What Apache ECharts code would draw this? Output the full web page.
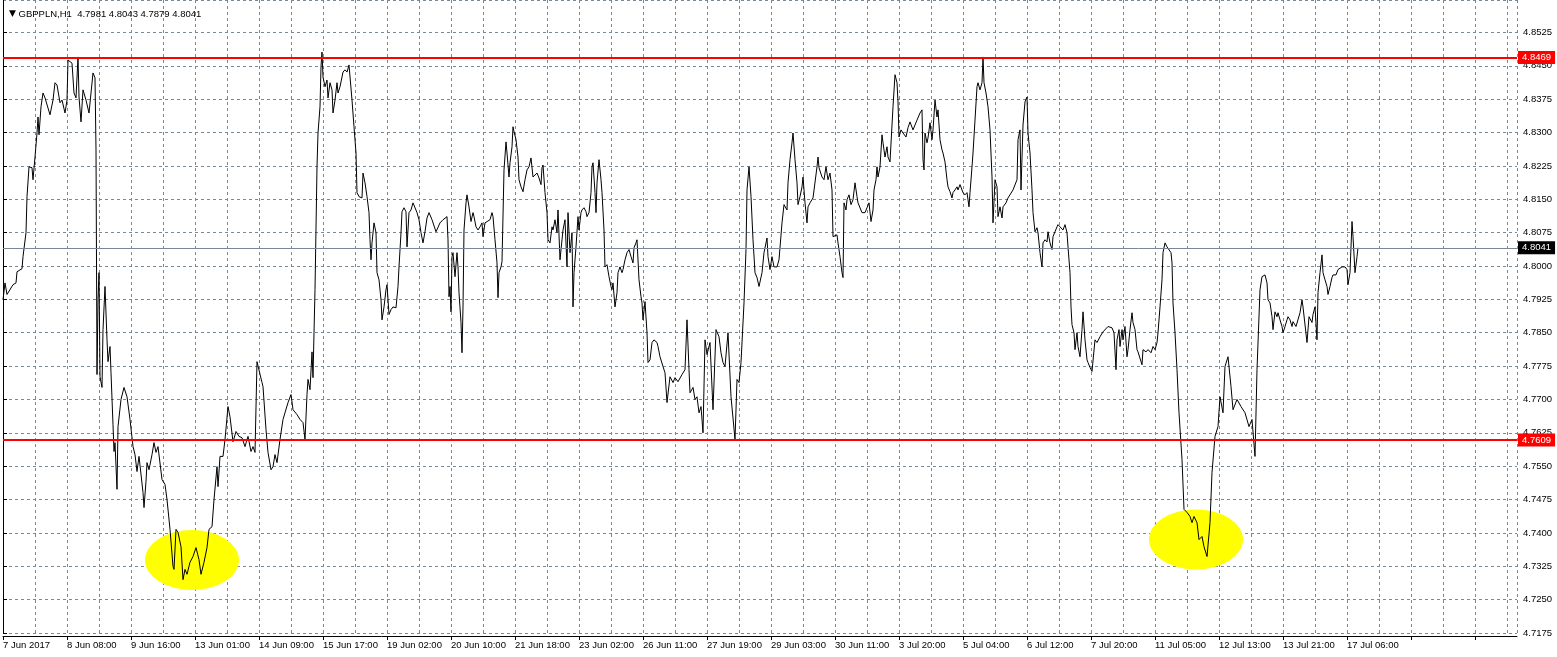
<!DOCTYPE html>
<html>
<head>
<meta charset="utf-8">
<script src="https://cdn.jsdelivr.net/npm/echarts@6/dist/echarts.min.js"></script>
<style>
html,body{margin:0;padding:0;background:#ffffff;}
#chart{width:1557px;height:657px;}
</style>
</head>
<body>
<div id="chart"></div>
<script>
// ---------- data ----------
const chartTitle = 'GBPPLN,H1';
const lastBarOHLC = ['4.7981', '4.8043', '4.7879', '4.8041'];

// x-axis tick labels, one every 32 hourly bars
const xTickLabels = ['7 Jun 2017', '8 Jun 08:00', '9 Jun 16:00', '13 Jun 01:00', '14 Jun 09:00',
  '15 Jun 17:00', '19 Jun 02:00', '20 Jun 10:00', '21 Jun 18:00', '23 Jun 02:00', '26 Jun 11:00',
  '27 Jun 19:00', '29 Jun 03:00', '30 Jun 11:00', '3 Jul 20:00', '5 Jul 04:00', '6 Jul 12:00',
  '7 Jul 20:00', '11 Jul 05:00', '12 Jul 13:00', '13 Jul 21:00', '17 Jul 06:00'];
const barsPerLabel = 32;
const visibleBars = 757;

// price axis
const priceMin = 4.7175;
const priceMax = 4.8598;
const priceStep = 0.0075;

// horizontal levels
const resistanceLevel = 4.8469;
const supportLevel = 4.7609;
const bidPrice = 4.8041;

// highlighted lows (bar, price)
const highlightBars = [94.5, 596.5];
const highlightPrices = [4.7339, 4.7385];

// hourly close line: [bar index, price]
const hourlyCloses = [
[0,4.7924],[1,4.7962],[2,4.7936],[5,4.7958],[6.5,4.7962],[7,4.7987],[9.5,4.7994],[10,4.8021],[11.5,4.8075],[12,4.8156],
[13,4.8223],[14.5,4.8221],[15,4.8194],[16,4.8245],[17,4.8299],[17.5,4.8335],[18,4.8295],[19,4.8358],[20,4.8389],[21,4.8378],
[23.5,4.8340],[25,4.8373],[26,4.8412],[27,4.8407],[28.5,4.8367],[29.5,4.8373],[31,4.8344],[32,4.8373],[32.5,4.8463],[34.5,4.8456],
[35.5,4.8389],[36.5,4.8378],[37.5,4.8470],[38,4.8380],[39,4.8324],[40,4.8396],[41.5,4.8373],[43,4.8344],[44,4.8389],[45,4.8434],
[46,4.8423],[46.5,4.8261],[47,4.7756],[47.5,4.7924],[48,4.7985],[48.5,4.7751],[49.5,4.7727],[50,4.7857],[51,4.7954],[52,4.7834],
[52.5,4.7785],[53.5,4.7819],[54,4.7760],[55,4.7643],[55.5,4.7583],[56,4.7603],[57,4.7498],[57.5,4.7639],[59,4.7700],[60.5,4.7727],
[62,4.7706],[63.5,4.7655],[65,4.7594],[66,4.7576],[67,4.7538],[68,4.7572],[69,4.7576],[70,4.7491],[70.5,4.7457],[71.5,4.7516],
[72,4.7558],[73,4.7542],[74.5,4.7576],[75.5,4.7603],[76.5,4.7581],[77.5,4.7594],[79.5,4.7520],[81,4.7509],[82,4.7475],[83.5,4.7408],
[85,4.7325],[85.5,4.7318],[86.5,4.7408],[87.5,4.7401],[89,4.7369],[90,4.7295],[91,4.7318],[92,4.7307],[93.5,4.7334],[95,4.7347],
[96.5,4.7367],[98,4.7340],[99,4.7307],[100.5,4.7334],[102,4.7367],[103,4.7408],[104.5,4.7414],[105.5,4.7475],[107,4.7549],[107.5,4.7504],
[108.5,4.7572],[110,4.7572],[111,4.7610],[112.5,4.7684],[113.5,4.7661],[115,4.7605],[116.5,4.7628],[118,4.7617],[119.5,4.7614],[121,4.7594],
[122.5,4.7617],[124,4.7583],[125,4.7594],[126,4.7581],[127,4.7785],[128,4.7783],[129.5,4.7738],[130,4.7729],[131.5,4.7632],[132.5,4.7581],
[134,4.7542],[135,4.7549],[136,4.7576],[137,4.7558],[138.5,4.7610],[140,4.7655],[141,4.7659],[142.5,4.7693],[144,4.7711],[145,4.7677],
[147,4.7666],[148.5,4.7655],[150,4.7648],[151,4.7610],[152,4.7711],[152.5,4.7745],[153.5,4.7722],[154.5,4.7807],[155,4.7749],[155.5,4.7850],
[156,4.7947],[157,4.8223],[157.5,4.8299],[158.5,4.8358],[159,4.8448],[159.5,4.8481],[160,4.8425],[161,4.8403],[162,4.8418],[162.5,4.8378],
[163.5,4.8412],[164.5,4.8396],[165,4.8344],[166,4.8373],[167,4.8412],[167.5,4.8389],[168.5,4.8403],[170,4.8436],[171,4.8441],[172,4.8436],
[173,4.8452],[174,4.8448],[174.5,4.8373],[175.5,4.8313],[176.5,4.8254],[177,4.8165],[178,4.8156],[179.5,4.8153],[180,4.8209],[181,4.8187],
[182,4.8156],[183,4.8120],[183.5,4.8059],[184,4.8014],[184.5,4.8052],[185.5,4.8097],[186.5,4.8075],[187,4.7985],[188,4.7969],[189,4.7924],
[189.5,4.7879],[190.5,4.7908],[191.5,4.7947],[192,4.7958],[193,4.7891],[194,4.7902],[195,4.7908],[196.5,4.7906],[197.5,4.7954],[198,4.7998],
[199,4.8075],[199.5,4.8122],[200.5,4.8131],[201.5,4.8122],[202,4.8043],[203,4.8120],[204,4.8126],[205,4.8142],[206,4.8145],[207,4.8120],
[208,4.8104],[209,4.8075],[210,4.8052],[211,4.8077],[212,4.8108],[213,4.8120],[214.5,4.8104],[215.5,4.8100],[216.5,4.8077],[217,4.8075],
[218.5,4.8097],[220,4.8104],[222,4.8111],[222.5,4.8059],[223,4.7931],[223.5,4.7954],[224,4.7897],[224.5,4.8021],[225,4.8030],[226,4.7976],
[227,4.8030],[227.5,4.7998],[228,4.7940],[229,4.7873],[229.5,4.7805],[230,4.7908],[230.5,4.8081],[231.5,4.8142],[232,4.8160],[233,4.8133],
[234,4.8100],[235,4.8120],[235.5,4.8111],[236.5,4.8088],[237.5,4.8081],[238.5,4.8088],[239.5,4.8097],[240,4.8066],[241,4.8097],[242,4.8100],
[243.5,4.8104],[244.5,4.8120],[245,4.8111],[246,4.8059],[247,4.8007],[247.5,4.7929],[248,4.7985],[249,4.7998],[249.5,4.8010],[250.5,4.8216],
[251.5,4.8279],[252,4.8254],[253,4.8200],[253.5,4.8232],[254.5,4.8268],[255,4.8313],[255.5,4.8302],[256.5,4.8284],[257.5,4.8245],[258,4.8194],
[259,4.8178],[260,4.8167],[261,4.8194],[262,4.8216],[263,4.8223],[264,4.8243],[265,4.8200],[265.5,4.8198],[267,4.8209],[268,4.8198],
[269,4.8183],[269.5,4.8221],[270,4.8227],[271,4.8165],[272,4.8120],[272.5,4.8059],[273.5,4.8052],[274.5,4.8088],[275,4.8081],[276,4.8104],
[277,4.8075],[277.5,4.8126],[278.5,4.8014],[279.5,4.8059],[280,4.8081],[281,4.8104],[282,4.7998],[282.5,4.8120],[283.5,4.8030],[284.5,4.8075],
[285,4.7908],[285.5,4.7985],[286.5,4.8043],[287.5,4.8111],[288,4.8081],[289,4.8120],[289.5,4.8126],[290.5,4.8131],[291.5,4.8122],[292,4.8111],
[293,4.8120],[294,4.8165],[294.5,4.8223],[295,4.8232],[296,4.8165],[296.5,4.8120],[297,4.8187],[298,4.8239],[299,4.8194],[299.5,4.8165],
[300.5,4.8081],[301,4.7998],[302,4.8003],[303,4.7976],[304,4.7954],[304.5,4.7947],[305,4.7962],[306,4.7908],[307,4.7940],[307.5,4.7985],
[308.5,4.7998],[309.5,4.7985],[310,4.7992],[311,4.8014],[312,4.8030],[313,4.8037],[314,4.8021],[315,4.8007],[315.5,4.8041],[316.5,4.8052],
[317,4.8059],[318,4.7969],[319,4.7931],[319.5,4.7917],[320,4.7879],[321,4.7920],[322,4.7850],[322.5,4.7783],[323.5,4.7789],[324.5,4.7828],
[325.5,4.7834],[327,4.7828],[327.5,4.7819],[328.5,4.7796],[330,4.7774],[331,4.7760],[332,4.7693],[333.5,4.7751],[335,4.7738],[336,4.7749],
[337.5,4.7740],[339.5,4.7756],[341,4.7767],[342,4.7879],[343,4.7767],[343.5,4.7715],[345,4.7727],[346,4.7700],[347,4.7706],[348,4.7670],
[349,4.7684],[350,4.7625],[351,4.7834],[352,4.7801],[353.5,4.7828],[355,4.7677],[356.5,4.7857],[358,4.7841],[359,4.7805],[360,4.7783],
[361,4.7774],[362.5,4.7850],[364,4.7706],[366,4.7610],[367,4.7745],[368,4.7738],[369,4.7783],[370.5,4.7917],[371.5,4.8037],[372,4.8171],
[373,4.8223],[374,4.8156],[375,4.8059],[376,4.7985],[377,4.7974],[378,4.7954],[379.5,4.7985],[380.5,4.8030],[382,4.8063],[382.5,4.8021],
[383.5,4.7992],[384.5,4.8021],[385.5,4.7998],[387,4.7998],[388,4.8014],[389.5,4.8097],[390.5,4.8138],[392,4.8126],[392.5,4.8187],[393.5,4.8239],
[394.5,4.8277],[395,4.8299],[396,4.8239],[397,4.8187],[397.5,4.8138],[398.5,4.8156],[399.5,4.8178],[400,4.8200],[401,4.8142],[402,4.8097],
[402.5,4.8133],[403.5,4.8142],[405,4.8153],[406,4.8156],[407,4.8223],[407.5,4.8245],[408,4.8221],[409.5,4.8200],[410.5,4.8194],[411.5,4.8223],
[412.5,4.8194],[413.5,4.8209],[414.5,4.8171],[415,4.8066],[416,4.8063],[417,4.8070],[417.5,4.8052],[418.5,4.8021],[419.5,4.7985],[420,4.7974],
[420.5,4.8142],[421.5,4.8126],[422,4.8149],[423,4.8160],[424,4.8138],[425,4.8149],[426,4.8187],[427,4.8156],[427.5,4.8142],[429.5,4.8120],
[431,4.8120],[432,4.8131],[433,4.8142],[434,4.8100],[435,4.8126],[435.5,4.8171],[436.5,4.8194],[437,4.8223],[437.5,4.8200],[438.5,4.8223],
[439.5,4.8295],[440,4.8277],[441,4.8245],[442,4.8268],[442.5,4.8245],[443.5,4.8234],[444.5,4.8317],[445,4.8358],[446,4.8430],[447,4.8412],
[447.5,4.8369],[448,4.8290],[449,4.8306],[450,4.8299],[451.5,4.8290],[452.5,4.8311],[453.5,4.8324],[455,4.8306],[456,4.8317],[457,4.8328],
[458.5,4.8344],[459.5,4.8351],[460,4.8239],[460.5,4.8216],[461,4.8299],[462,4.8277],[462.5,4.8288],[463.5,4.8322],[464.5,4.8284],[465,4.8306],
[466,4.8373],[467,4.8335],[467.5,4.8351],[468.5,4.8284],[469.5,4.8261],[470,4.8254],[471,4.8234],[472,4.8194],[472.5,4.8178],[473.5,4.8167],
[474.5,4.8153],[475,4.8165],[476,4.8171],[477,4.8178],[477.5,4.8171],[478.5,4.8183],[479.5,4.8187],[480,4.8165],[481,4.8160],[482,4.8165],
[483,4.8133],[483.5,4.8165],[484.5,4.8223],[485,4.8254],[486,4.8328],[487,4.8403],[487.5,4.8412],[488.5,4.8396],[489.5,4.8412],[490,4.8470],
[490.5,4.8412],[491.5,4.8389],[492.5,4.8358],[493.5,4.8306],[494.5,4.8200],[495,4.8097],[496,4.8194],[497,4.8178],[497.5,4.8111],[498.5,4.8133],
[499.5,4.8108],[500,4.8133],[501.5,4.8142],[502.5,4.8153],[503.5,4.8149],[505,4.8171],[507,4.8194],[507.5,4.8284],[508.5,4.8306],[509,4.8171],
[510,4.8317],[511,4.8369],[512,4.8380],[512.5,4.8299],[513.5,4.8254],[514.5,4.8171],[515,4.8120],[516,4.8077],[517,4.8086],[517.5,4.8075],
[518.5,4.8030],[519.5,4.7998],[520,4.8052],[521,4.8059],[522,4.8054],[522.5,4.8077],[523.5,4.8052],[524.5,4.8037],[525,4.8066],[526,4.8077],
[527,4.8088],[527.5,4.8093],[528.5,4.8088],[529.5,4.8086],[530,4.8081],[531,4.8093],[532,4.8075],[532.5,4.8043],[533.5,4.7985],[534,4.7908],
[534.5,4.7868],[535.5,4.7850],[536,4.7812],[537,4.7850],[537.5,4.7819],[538.5,4.7796],[539.5,4.7857],[540,4.7897],[541,4.7834],[542,4.7789],
[542.5,4.7783],[543.5,4.7772],[544.5,4.7763],[546,4.7834],[547,4.7828],[548.5,4.7841],[550,4.7852],[552.5,4.7864],[554.5,4.7861],[555.5,4.7850],
[556.5,4.7767],[557,4.7834],[558,4.7857],[558.5,4.7819],[559.5,4.7857],[560,4.7834],[561,4.7864],[562,4.7796],[562.5,4.7812],[563.5,4.7857],
[564.5,4.7895],[565,4.7873],[566,4.7857],[567,4.7812],[567.5,4.7807],[568.5,4.7805],[569.5,4.7778],[570,4.7812],[571.5,4.7807],[572.5,4.7812],
[574,4.7805],[575,4.7819],[576,4.7812],[577,4.7828],[577.5,4.7850],[578.5,4.7908],[579.5,4.7969],[580,4.8030],[581,4.8052],[582,4.8043],
[583,4.8041],[584,4.8030],[584.5,4.8007],[585,4.7917],[586,4.7850],[587,4.7767],[588,4.7670],[589.5,4.7565],[590.5,4.7453],[592,4.7446],
[593.5,4.7437],[594.5,4.7423],[595.5,4.7437],[597,4.7423],[598,4.7385],[599.5,4.7392],[600.5,4.7369],[602,4.7347],[603.5,4.7423],[604.5,4.7536],
[606,4.7617],[607.5,4.7639],[608.5,4.7706],[610,4.7670],[611,4.7774],[612.5,4.7796],[614,4.7729],[615,4.7677],[617,4.7700],[619,4.7684],
[621,4.7670],[623,4.7639],[624.5,4.7655],[626,4.7572],[627,4.7767],[628.5,4.7947],[629.5,4.7976],[631,4.7980],[632,4.7962],[632.5,4.7924],
[633.5,4.7917],[634.5,4.7886],[635,4.7857],[636,4.7897],[637,4.7886],[637.5,4.7895],[638.5,4.7879],[639.5,4.7864],[640,4.7850],[641,4.7864],
[642,4.7879],[642.5,4.7886],[643.5,4.7879],[644.5,4.7864],[645,4.7875],[646.5,4.7864],[647.5,4.7868],[648.5,4.7895],[649.5,4.7924],[650,4.7908],
[651,4.7908],[652,4.7828],[653,4.7886],[654.5,4.7873],[655,4.7891],[656,4.7908],[657,4.7834],[657.5,4.7940],[658.5,4.7985],[659.5,4.8025],
[660,4.7985],[661,4.7969],[662,4.7954],[662.5,4.7936],[663.5,4.7954],[664.5,4.7974],[665,4.7980],[666.5,4.7980],[667.5,4.7992],[669.5,4.7998],
[671,4.7998],[672,4.7992],[672.5,4.7958],[673.5,4.7985],[674.5,4.8100],[675,4.8066],[676,4.7985],[677,4.8021],[677.5,4.8041]
];

// ---------- chart ----------
const FONT = "'Liberation Sans', Arial, sans-serif";
const GRID_COLOR = '#778899';
const chart = echarts.init(document.getElementById('chart'), null, {renderer: 'canvas'});

const highlightData = highlightBars.map((b, i) => [b, highlightPrices[i]]);

function levelLine(value, color, width, bg) {
  return {
    yAxis: value,
    lineStyle: {color: color, width: width, type: 'solid'},
    label: {
      show: true,
      position: 'end',
      distance: 1,
      formatter: value.toFixed(4),
      color: '#ffffff',
      backgroundColor: bg,
      padding: [1, 4, 1, 4],
      fontFamily: FONT,
      fontSize: 9.5,
      lineHeight: 11
    }
  };
}

const option = {
  animation: false,
  backgroundColor: '#ffffff',
  title: {
    left: 4,
    top: 4,
    text: '{tri|▼} ' + chartTitle + '  ' + lastBarOHLC.join(' '),
    textStyle: {
      fontFamily: FONT,
      fontSize: 9.5,
      fontWeight: 'normal',
      color: '#000000',
      rich: {
        tri: {fontSize: 9, color: '#000000', fontFamily: "'DejaVu Sans', sans-serif"}
      }
    }
  },
  grid: {left: 3, right: 40, top: 0, bottom: 24, containLabel: false},
  xAxis: [
    {
      type: 'value',
      min: 0,
      max: visibleBars,
      interval: barsPerLabel / 2,
      axisLine: {show: false},
      axisTick: {show: false},
      axisLabel: {show: false},
      splitLine: {show: true, lineStyle: {color: GRID_COLOR, type: [3, 3], width: 1}}
    },
    {
      type: 'value',
      min: 0,
      max: visibleBars,
      interval: barsPerLabel,
      position: 'bottom',
      offset: 3,
      axisLine: {show: true, lineStyle: {color: '#000000', width: 1}},
      axisTick: {show: true, length: 4, lineStyle: {color: '#000000'}},
      splitLine: {show: false},
      axisLabel: {
        show: true,
        showMaxLabel: false,
        align: 'left',
        margin: 4,
        color: '#000000',
        fontFamily: FONT,
        fontSize: 9.5,
        formatter: function (v) {
          const i = Math.round(v / barsPerLabel);
          return (Math.abs(v - i * barsPerLabel) < 1e-6 && xTickLabels[i]) ? xTickLabels[i] : '';
        }
      }
    }
  ],
  yAxis: [
    {
      type: 'value',
      position: 'right',
      min: priceMin,
      max: priceMax,
      interval: priceStep,
      axisLine: {show: true, lineStyle: {color: '#000000', width: 1}},
      axisTick: {show: true, length: 4, lineStyle: {color: '#000000'}},
      axisLabel: {
        show: true,
        showMaxLabel: false,
        margin: 6,
        color: '#000000',
        fontFamily: FONT,
        fontSize: 9.5,
        formatter: v => v.toFixed(4)
      },
      splitLine: {show: true, lineStyle: {color: GRID_COLOR, type: [3, 3], width: 1}}
    },
    {
      type: 'value',
      position: 'left',
      min: priceMin,
      max: priceMax,
      axisLine: {show: true, lineStyle: {color: '#000000', width: 1}},
      axisTick: {show: false},
      axisLabel: {show: false},
      splitLine: {show: false}
    }
  ],
  series: [
    {
      type: 'scatter',
      name: 'lows',
      xAxisIndex: 0,
      yAxisIndex: 0,
      data: highlightData,
      symbol: 'circle',
      symbolSize: [94, 60],
      itemStyle: {color: '#ffff00', opacity: 1},
      silent: true,
      z: 1
    },
    {
      type: 'line',
      name: chartTitle,
      xAxisIndex: 0,
      yAxisIndex: 0,
      data: hourlyCloses,
      showSymbol: false,
      symbol: 'none',
      lineStyle: {color: '#000000', width: 1},
      silent: true,
      z: 3,
      markLine: {
        silent: true,
        precision: 4,
        symbol: ['none', 'none'],
        animation: false,
        data: [
          levelLine(bidPrice, GRID_COLOR, 1, '#000000'),
          levelLine(resistanceLevel, '#ff0000', 2, '#ff0000'),
          levelLine(supportLevel, '#ff0000', 2, '#ff0000')
        ]
      }
    }
  ]
};

chart.setOption(option);
</script>
</body>
</html>
